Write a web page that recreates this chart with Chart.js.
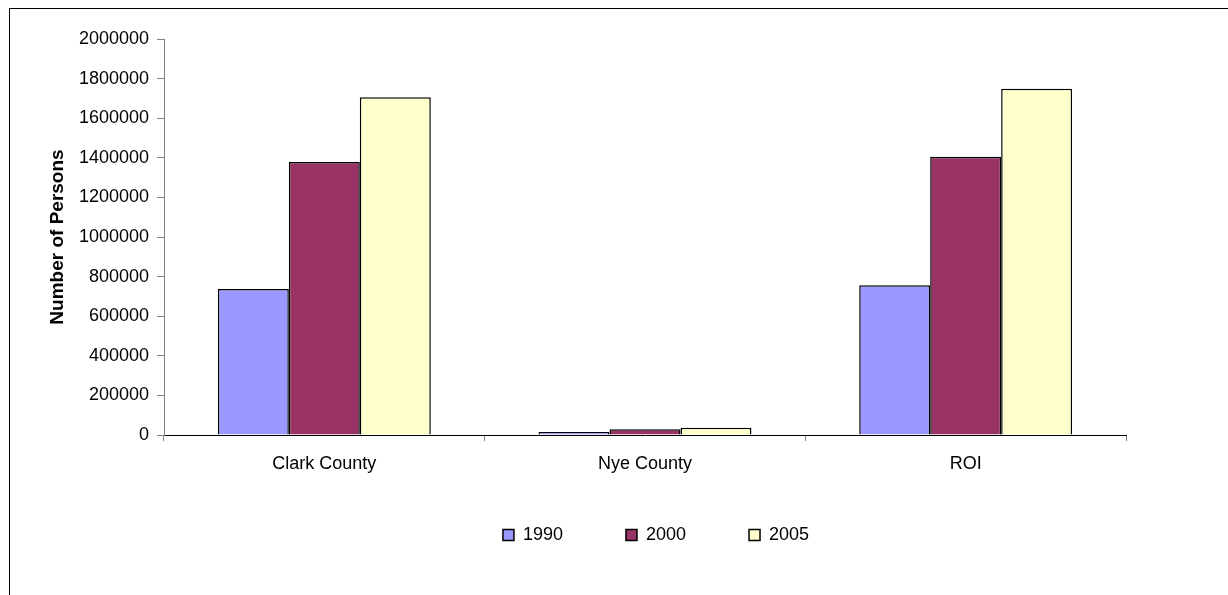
<!DOCTYPE html>
<html>
<head>
<meta charset="utf-8">
<script src="https://cdn.jsdelivr.net/npm/chart.js@4"></script>
<style>
  html, body { margin: 0; padding: 0; background: #fff; overflow: hidden; }
  #frame { position: absolute; left: 9px; top: 8px; width: 1400px; height: 800px; border: 1px solid #000; }
  #productChart { position: absolute; left: 0; top: 0; }
</style>
</head>
<body>
<div id="frame"></div>
<canvas id="productChart" width="1228" height="595"></canvas>
<script>
// chart data
var counties = ["Clark County", "Nye County", "ROI"];
var years = ["1990", "2000", "2005"];
var pop1990 = [737000, 15000, 756000];
var pop2000 = [1379000, 29000, 1405000];
var pop2005 = [1706000, 37000, 1749000];
var barColors = ["#9999FF", "#993366", "#FFFFCC"];

var font = "'Liberation Sans', Arial, sans-serif";

// move the legend a bit right and up like the original
var legendShift = {
  id: "legendShift",
  afterLayout: function (chart) {
    var lg = chart.legend;
    lg.left += 11;
    lg.right += 11;
    lg.top -= 22;
    lg.bottom -= 22;
  }
};

var ctx = document.getElementById("productChart").getContext("2d");
var myChart = new Chart(ctx, {
  type: "bar",
  data: {
    labels: counties,
    datasets: [pop1990, pop2000, pop2005].map(function (vals, i) {
      return {
        label: years[i],
        data: vals,
        backgroundColor: barColors[i],
        borderColor: "#000",
        borderWidth: 1.5,
        barPercentage: 1,
        categoryPercentage: 0.664
      };
    })
  },
  plugins: [legendShift],
  options: {
    responsive: false,
    animation: false,
    layout: { padding: { top: 39, right: 102, bottom: 19, left: 0 } },
    plugins: {
      tooltip: { enabled: false },
      legend: {
        position: "bottom",
        fullSize: false,
        labels: {
          boxWidth: 11,
          boxHeight: 11,
          padding: 63,
          color: "#000",
          font: { family: font, size: 18 }
        }
      }
    },
    scales: {
      x: {
        afterFit: function (scale) { scale.height = 50; },
        grid: {
          offset: true,
          drawOnChartArea: false,
          drawTicks: true,
          tickLength: 6,
          color: "#808080"
        },
        border: { color: "#000", width: 1 },
        ticks: { color: "#000", padding: 12, font: { family: font, size: 18 } }
      },
      y: {
        min: 0,
        max: 2000000,
        afterFit: function (scale) { scale.width = 164; },
        grid: {
          drawOnChartArea: false,
          drawTicks: true,
          tickLength: 7,
          color: "#808080"
        },
        border: { color: "#808080", width: 1 },
        ticks: {
          stepSize: 200000,
          color: "#000",
          padding: 8,
          font: { family: font, size: 18 },
          callback: function (v) { return String(v); }
        },
        title: {
          display: true,
          text: "Number of Persons",
          color: "#000",
          padding: { top: 46, bottom: 0 },
          font: { family: font, size: 19, weight: "bold" }
        }
      }
    }
  }
});
</script>
</body>
</html>
